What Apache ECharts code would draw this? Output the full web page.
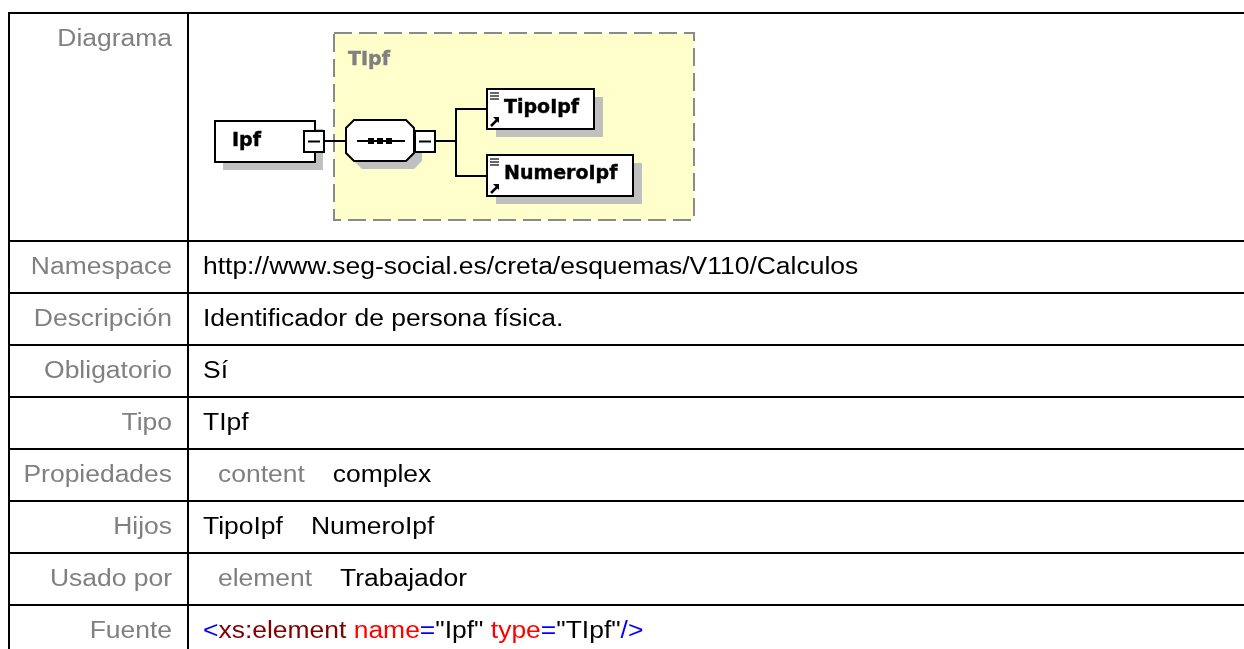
<!DOCTYPE html>
<html>
<head>
<meta charset="utf-8">
<script src="https://cdn.jsdelivr.net/npm/echarts@6/dist/echarts.min.js"></script>
<style>
html,body{margin:0;padding:0;background:#fff;}
#main{width:1244px;height:649px;}
</style>
</head>
<body>
<div id="main"></div>
<script>
// ---- data ----
var rowLabels = ['Diagrama', 'Namespace', 'Descripción', 'Obligatorio', 'Tipo', 'Propiedades', 'Hijos', 'Usado por', 'Fuente'];
var namespaceValue = 'http://www.seg-social.es/creta/esquemas/V110/Calculos';
var descripcionValue = 'Identificador de persona física.';
var obligatorioValue = 'Sí';
var tipoValue = 'TIpf';
var propiedadesKeys = ['content'];
var propiedadesVals = ['complex'];
var hijosValues = ['TipoIpf', 'NumeroIpf'];
var usadoPorKeys = ['element'];
var usadoPorVals = ['Trabajador'];
var fuenteTokens = ['<', 'xs:element', ' name', '=', '"Ipf"', ' type', '=', '"TIpf"', '/>'];
var fuenteKinds = ['punct', 'tag', 'attr', 'punct', 'value', 'attr', 'punct', 'value', 'punct'];
var diagramElement = 'Ipf';
var diagramType = 'TIpf';
var diagramChildren = ['TipoIpf', 'NumeroIpf'];

// ---- styles / layout ----
var FONT = '"Liberation Sans", Arial, sans-serif';
var DFONT = '"DejaVu Sans", Verdana, sans-serif';
var FS = 23, SX = 1.15;
var GRAY = '#808080', BLACK = '#000000';
var kindColors = { punct: '#0000ff', tag: '#800000', attr: '#ff0000', value: '#000000' };
var tableLeft = 9, tableTop = 13, colX = 188, diagBottom = 241, rowH = 52;
var labelRight = 172, valueLeft = 203, subIndent = 15, gap = 28;

function txt(x, y, text, fill, align, extra) {
  var el = {
    type: 'text', x: x, y: y, scaleX: SX,
    style: {
      text: text, fontFamily: FONT, fontSize: FS, fill: fill,
      align: align || 'left', verticalAlign: 'middle'
    }
  };
  if (extra) { for (var k in extra) el.style[k] = extra[k]; }
  return el;
}
function line(x1, y1, x2, y2, w, color) {
  return { type: 'line', shape: { x1: x1, y1: y1, x2: x2, y2: y2 }, style: { stroke: color || BLACK, lineWidth: w || 2 } };
}
function rect(x, y, w, h, fill, stroke, lw, dash) {
  var s = { fill: fill };
  if (stroke) { s.stroke = stroke; s.lineWidth = lw || 2; }
  if (dash) s.lineDash = dash;
  return { type: 'rect', shape: { x: x, y: y, width: w, height: h }, style: s };
}

var els = [];
// table grid
els.push(line(8, tableTop, 1244, tableTop));
els.push(line(tableLeft, 12, tableLeft, 649));
els.push(line(colX, 12, colX, 649));
for (var i = 0; i < rowLabels.length - 1; i++) {
  var yy = diagBottom + i * rowH;
  els.push(line(8, yy, 1244, yy));
}

function rowY(r) { return diagBottom + (r - 1) * rowH + rowH / 2 + 0.5; }

// labels
els.push(txt(labelRight, 40, rowLabels[0], GRAY, 'right'));
for (var r = 1; r < rowLabels.length; r++) {
  els.push(txt(labelRight, rowY(r), rowLabels[r], GRAY, 'right'));
}

// values
els.push(txt(valueLeft, rowY(1), namespaceValue, BLACK));
els.push(txt(valueLeft, rowY(2), descripcionValue, BLACK));
els.push(txt(valueLeft, rowY(3), obligatorioValue, BLACK));
els.push(txt(valueLeft, rowY(4), tipoValue, BLACK));

var pad = [0, 0, 0, gap / SX];
var richBase = {
  g: { fill: GRAY, fontFamily: FONT, fontSize: FS },
  k: { fill: BLACK, fontFamily: FONT, fontSize: FS, padding: pad },
  k0: { fill: BLACK, fontFamily: FONT, fontSize: FS }
};
els.push(txt(valueLeft + subIndent, rowY(5), '{g|' + propiedadesKeys[0] + '}{k|' + propiedadesVals[0] + '}', BLACK, 'left', { rich: richBase }));
els.push(txt(valueLeft, rowY(6), hijosValues.map(function (h, j) { return (j ? '{k|' : '{k0|') + h + '}'; }).join(''), BLACK, 'left', { rich: richBase }));
els.push(txt(valueLeft + subIndent, rowY(7), '{g|' + usadoPorKeys[0] + '}{k|' + usadoPorVals[0] + '}', BLACK, 'left', { rich: richBase }));

var fuenteRich = {};
Object.keys(kindColors).forEach(function (kd) { fuenteRich[kd] = { fill: kindColors[kd], fontFamily: FONT, fontSize: FS }; });
var fuenteStr = fuenteTokens.map(function (t, j) { return '{' + fuenteKinds[j] + '|' + t + '}'; }).join('');
els.push(txt(valueLeft, rowY(8), fuenteStr, BLACK, 'left', { rich: fuenteRich }));

// ---- diagram ----
var SH = '#c0c0c0';
function dtext(x, y, t, fill) {
  return { type: 'text', x: x, y: y, style: { text: t, fontFamily: DFONT, fontWeight: 'bold', fontSize: 19, fill: fill || BLACK, align: 'left', verticalAlign: 'middle', stroke: fill || BLACK, lineWidth: 0.4 } };
}
// complex type box
els.push(rect(334, 33, 360, 187, '#ffffcc', '#8a8a8a', 2, [18, 7]));
els.push(dtext(348, 60, diagramType, GRAY));
// Ipf element
els.push(rect(223, 129, 100, 41, SH));
els.push(rect(215, 121, 100, 41, '#fff', BLACK, 2));
els.push(dtext(232, 141, diagramElement));
els.push(rect(304, 131, 20, 21, '#fff', BLACK, 2));
els.push(line(308, 141.5, 320, 141.5, 2));
els.push(line(324, 141, 346, 141, 2));
// sequence octagon
function octa(ox, oy, fill, stroke) {
  var x0 = 346 + ox, y0 = 120 + oy, x1 = 414 + ox, y1 = 161 + oy, c = 8;
  var s = { fill: fill };
  if (stroke) { s.stroke = stroke; s.lineWidth = 2; }
  return { type: 'polygon', shape: { points: [[x0 + c, y0], [x1 - c, y0], [x1, y0 + c], [x1, y1 - c], [x1 - c, y1], [x0 + c, y1], [x0, y1 - c], [x0, y0 + c]] }, style: s };
}
els.push(octa(8, 8, SH));
els.push(octa(0, 0, '#fff', BLACK));
els.push(line(357, 141, 405, 141, 2));
[371, 380, 389].forEach(function (dx) { els.push(rect(dx - 3, 138, 6, 6, BLACK)); });
els.push(rect(415, 131, 20, 21, '#fff', BLACK, 2));
els.push(line(419, 141.5, 431, 141.5, 2));
els.push(line(435, 141, 456, 141, 2));
els.push(line(456, 108, 456, 177, 2));
els.push(line(455, 109, 487, 109, 2));
els.push(line(455, 176, 487, 176, 2));
// child elements
function child(x, y, w, h, name) {
  els.push(rect(x + 9, y + 8, w, h, SH));
  els.push(rect(x, y, w, h, '#fff', BLACK, 2));
  for (var q = 0; q < 3; q++) els.push(line(x + 3, y + 4 + q * 3, x + 12, y + 4 + q * 3, 1.2));
  els.push(line(x + 4, y + h - 3, x + 10, y + h - 9, 2.5));
  els.push({ type: 'polygon', shape: { points: [[x + 6, y + h - 12], [x + 12, y + h - 12], [x + 12, y + h - 6]] }, style: { fill: BLACK } });
  els.push(dtext(x + 17, y + h / 2 - 1, name));
}
child(487, 89, 107, 40, diagramChildren[0]);
child(487, 155, 146, 41, diagramChildren[1]);

var chart = echarts.init(document.getElementById('main'), null, { renderer: 'canvas' });
chart.setOption({ backgroundColor: '#fff', animation: false, graphic: { elements: els } });
</script>
</body>
</html>
